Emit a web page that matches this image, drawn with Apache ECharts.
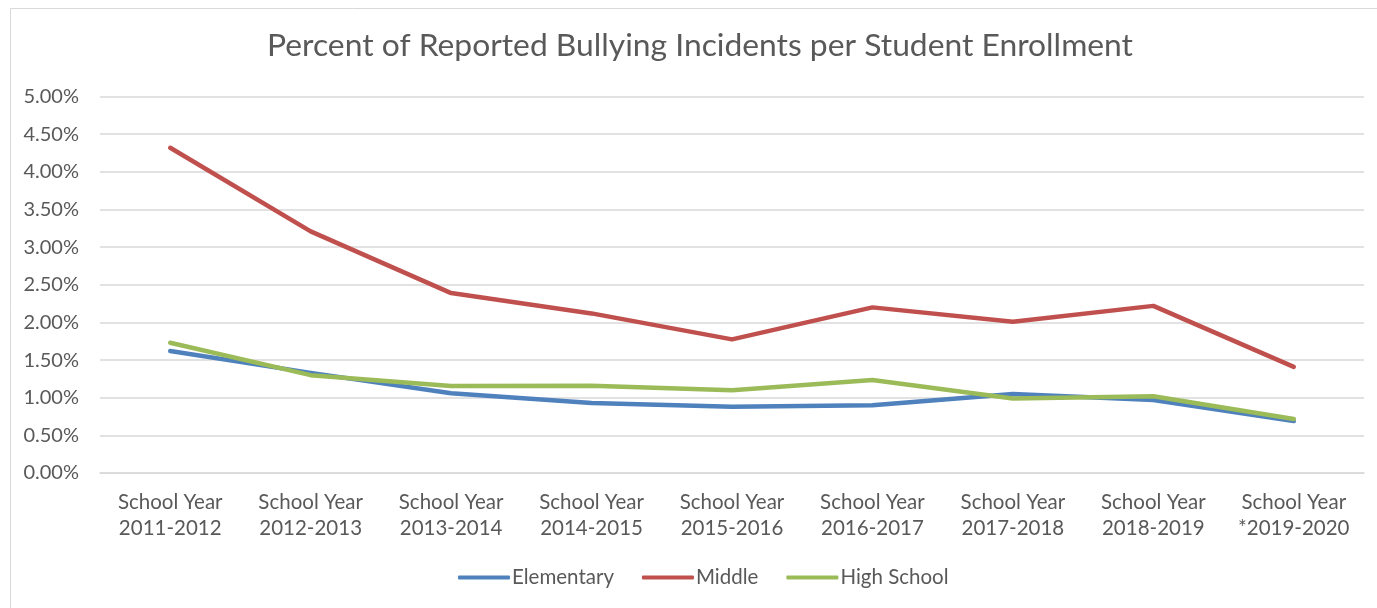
<!DOCTYPE html>
<html><head><meta charset="utf-8">
<script src="https://cdn.jsdelivr.net/npm/echarts@6/dist/echarts.min.js"></script>
<style>html,body{margin:0;padding:0;background:#fff}#c{width:1377px;height:608px}</style>
</head><body><div id="c"></div>
<script>
const categories = ['School Year\n2011-2012','School Year\n2012-2013','School Year\n2013-2014','School Year\n2014-2015','School Year\n2015-2016','School Year\n2016-2017','School Year\n2017-2018','School Year\n2018-2019','School Year\n*2019-2020'];
const elementary = [1.62, 1.33, 1.06, 0.93, 0.88, 0.90, 1.05, 0.97, 0.69];
const middle = [4.32, 3.21, 2.39, 2.12, 1.775, 2.20, 2.01, 2.22, 1.41];
const highSchool = [1.73, 1.30, 1.155, 1.16, 1.10, 1.235, 0.99, 1.02, 0.717];
const yTicks = [0, 0.5, 1, 1.5, 2, 2.5, 3, 3.5, 4, 4.5, 5];

const FONT = 'Lato';
const TXT = '#595959';
const chart = echarts.init(document.getElementById('c'));
function mk(name, data, color){
  return {name, type:'line', data, symbol:'none', smooth:false,
    lineStyle:{width:4.5, color, cap:'round', join:'round'}, itemStyle:{color}};
}
chart.setOption({
  animation:false,
  graphic:[{type:'rect', left:8, top:6, shape:{width:1400, height:700},
    style:{fill:'none', stroke:'#d9d9d9', lineWidth:1}}],
  title:{text:'Percent of Reported Bullying Incidents per Student Enrollment', left:262, top:25,
    textStyle:{fontFamily:FONT, fontSize:31.8, fontWeight:'normal', color:TXT}},
  legend:{bottom:15, left:453, itemWidth:52, itemHeight:4, itemGap:28,
    icon:'roundRect',
    textStyle:{fontFamily:FONT, fontSize:20.5, color:TXT, padding:[0,0,0,-3]}},
  grid:{left:100, right:13, top:96.6, bottom:135, containLabel:false},
  xAxis:{type:'category', data:categories, boundaryGap:true,
    axisLine:{show:true, lineStyle:{color:'#d9d9d9', width:1.5}}, axisTick:{show:false},
    axisLabel:{fontFamily:FONT, fontSize:20.5, color:TXT, lineHeight:26, margin:16, interval:0}},
  yAxis:{type:'value', min:0, max:5, interval:0.5,
    axisLine:{show:false}, axisTick:{show:false},
    splitLine:{lineStyle:{color:'#d9d9d9', width:1.5}},
    axisLabel:{fontFamily:FONT, fontSize:20, color:TXT, margin:21,
      formatter:v=>v.toFixed(2)+'%'}},
  series:[mk('Elementary', elementary, '#4F81BD'), mk('Middle', middle, '#C0504D'), mk('High School', highSchool, '#9BBB59')]
});
</script></body></html>
